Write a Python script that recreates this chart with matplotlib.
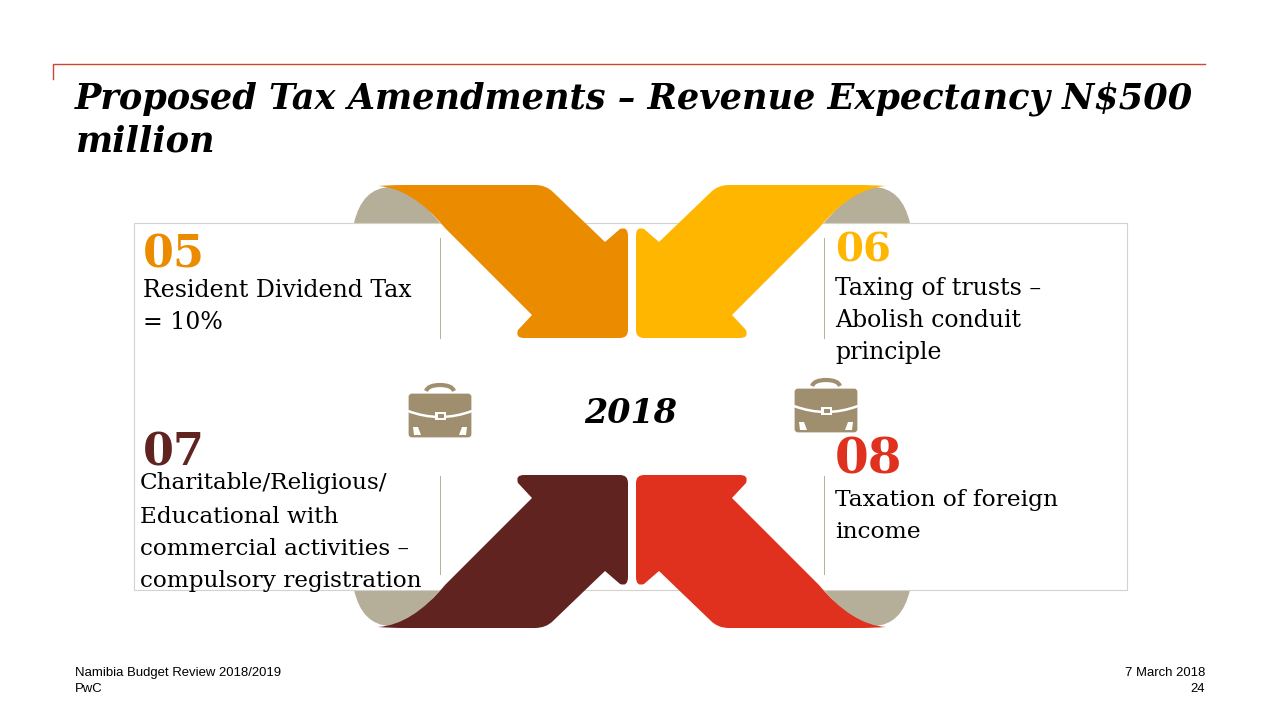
import matplotlib
matplotlib.use("Agg")
import matplotlib.pyplot as plt
from matplotlib.patches import PathPatch, Rectangle, FancyBboxPatch, Polygon
from matplotlib.path import Path

SERIF = "DejaVu Serif"
SANS = "Liberation Sans"

title_lines = ["Proposed Tax Amendments – Revenue Expectancy N$500", "million"]
centre_label = "2018"
item_numbers = ["05", "06", "07", "08"]
item_colors = ["#EB8C00", "#FFB600", "#602320", "#E0301E"]
item_texts = [
    ["Resident Dividend Tax", "= 10%"],
    ["Taxing of trusts –", "Abolish conduit", "principle"],
    ["Charitable/Religious/", "Educational with", "commercial activities –", "compulsory registration"],
    ["Taxation of foreign", "income"],
]
footer_left = ["Namibia Budget Review 2018/2019", "PwC"]
footer_right = ["7 March 2018", "24"]

number_pos = [(143, 268), (835, 262), (143, 466), (835, 473)]
number_size = [32, 29, 32, 35]
text_pos = [
    (143, [297, 329]),
    (835, [295, 327, 359]),
    (140, [489, 523, 555, 587]),
    (835, [506, 538]),
]
text_size = [17, 17, 16.7, 16.8]
GREY = "#B5AE98"
CASE = "#A08F6E"
CX, CY = 632, 406.5


def arrow_path(sx, sy):
    # orange arrow is the template, the others are mirrored round the centre
    verts = [
        (378, 186), (390, 185), (405, 185), (535, 185),
        (546, 185), (553, 192), (605, 242), (620, 229),
        (628, 226), (628, 236), (628, 330), (628, 338),
        (620, 338), (524, 338), (515, 338), (518, 330),
        (532, 315), (445, 228), (412, 188), (378, 186),
    ]
    codes = [
        Path.MOVETO, Path.CURVE3, Path.CURVE3, Path.LINETO,
        Path.CURVE3, Path.CURVE3, Path.LINETO, Path.LINETO,
        Path.CURVE3, Path.CURVE3, Path.LINETO, Path.CURVE3,
        Path.CURVE3, Path.LINETO, Path.CURVE3, Path.CURVE3,
        Path.LINETO, Path.LINETO, Path.CURVE3, Path.CURVE3,
    ]
    pts = [(CX + sx * (x - CX), CY + sy * (y - CY)) for x, y in verts]
    return Path(pts, codes)


def grey_path(sx, sy):
    verts = [(354, 223), (362, 188), (390, 187), (410, 187), (440, 223), (354, 223)]
    codes = [Path.MOVETO, Path.CURVE3, Path.CURVE3, Path.CURVE3, Path.CURVE3, Path.CLOSEPOLY]
    pts = [(CX + sx * (x - CX), CY + sy * (y - CY)) for x, y in verts]
    return Path(pts, codes)


def draw_case(ax, x, y):
    # x, y is the top left corner of the case body
    ax.add_patch(FancyBboxPatch((x + 2, y + 2), 60, 41, boxstyle="round,pad=0,rounding_size=2",
                                fc=CASE, ec=CASE, lw=2, zorder=5))
    handle = Path([(x + 18, y - 2), (x + 20, y - 8), (x + 32, y - 8), (x + 44, y - 8), (x + 46, y - 2)],
                  [Path.MOVETO, Path.CURVE3, Path.CURVE3, Path.CURVE3, Path.CURVE3])
    ax.add_patch(PathPatch(handle, fc="none", ec=CASE, lw=3, zorder=5))
    belt = Path([(x, y + 18), (x + 32, y + 30), (x + 64, y + 18)],
                [Path.MOVETO, Path.CURVE3, Path.CURVE3])
    ax.add_patch(PathPatch(belt, fc="none", ec="white", lw=1.8, zorder=6))
    ax.add_patch(Rectangle((x + 27, y + 19), 11, 8, fc="white", ec="none", zorder=6))
    ax.add_patch(Rectangle((x + 29.5, y + 21), 6, 3.5, fc=CASE, ec="none", zorder=7))
    ax.add_patch(Polygon([(x + 5, y + 34), (x + 10, y + 34), (x + 13, y + 42), (x + 6, y + 42)],
                         fc="white", ec="none", zorder=6))
    ax.add_patch(Polygon([(x + 59, y + 34), (x + 54, y + 34), (x + 51, y + 42), (x + 58, y + 42)],
                         fc="white", ec="none", zorder=6))


fig = plt.figure(figsize=(12.8, 7.2), dpi=100)
ax = fig.add_axes([0, 0, 1, 1])
ax.set_xlim(0, 1280)
ax.set_ylim(720, 0)
ax.axis("off")

# header rule
ax.plot([53, 53, 1205], [79, 64, 64], color="#D0452B", lw=1, solid_joinstyle="miter")
for line, y in zip(title_lines, [108, 151]):
    ax.text(75, y, line, family=SERIF, weight="bold", style="italic", fontsize=25.25, color="black")

mirrors = [(1, 1), (-1, 1), (1, -1), (-1, -1)]

for sx, sy in mirrors:
    ax.add_patch(PathPatch(grey_path(sx, sy), fc=GREY, ec="none", zorder=1))

ax.add_patch(Rectangle((134, 223), 993, 367, fc="white", ec="#D5D2CA", lw=0.8, zorder=2))

for (sx, sy), col in zip(mirrors, item_colors):
    ax.add_patch(PathPatch(arrow_path(sx, sy), fc=col, ec="none", zorder=4))

for x in [440, 824]:
    ax.plot([x, x], [238, 338], color=GREY, lw=0.7, zorder=3)
    ax.plot([x, x], [476, 574], color=GREY, lw=0.7, zorder=3)

draw_case(ax, 408, 393)
draw_case(ax, 794, 388)

ax.text(CX - 1, 423, centre_label, family=SERIF, weight="bold", style="italic", fontsize=24,
        ha="center", color="black", zorder=6)

for num, col, (nx, ny), size in zip(item_numbers, item_colors, number_pos, number_size):
    ax.text(nx, ny, num, family=SERIF, weight="bold", fontsize=size, color=col, zorder=6)

for lines, (tx, ys), size in zip(item_texts, text_pos, text_size):
    for line, y in zip(lines, ys):
        ax.text(tx, y, line, family=SERIF, fontsize=size, color="black", zorder=7)

for line, y in zip(footer_left, [676, 692]):
    ax.text(75, y, line, family=SANS, fontsize=9.45, color="black")
for line, y in zip(footer_right, [676, 692]):
    ax.text(1205, y, line, family=SANS, fontsize=9.45, color="black", ha="right")

fig.savefig("out.png", dpi=100)
